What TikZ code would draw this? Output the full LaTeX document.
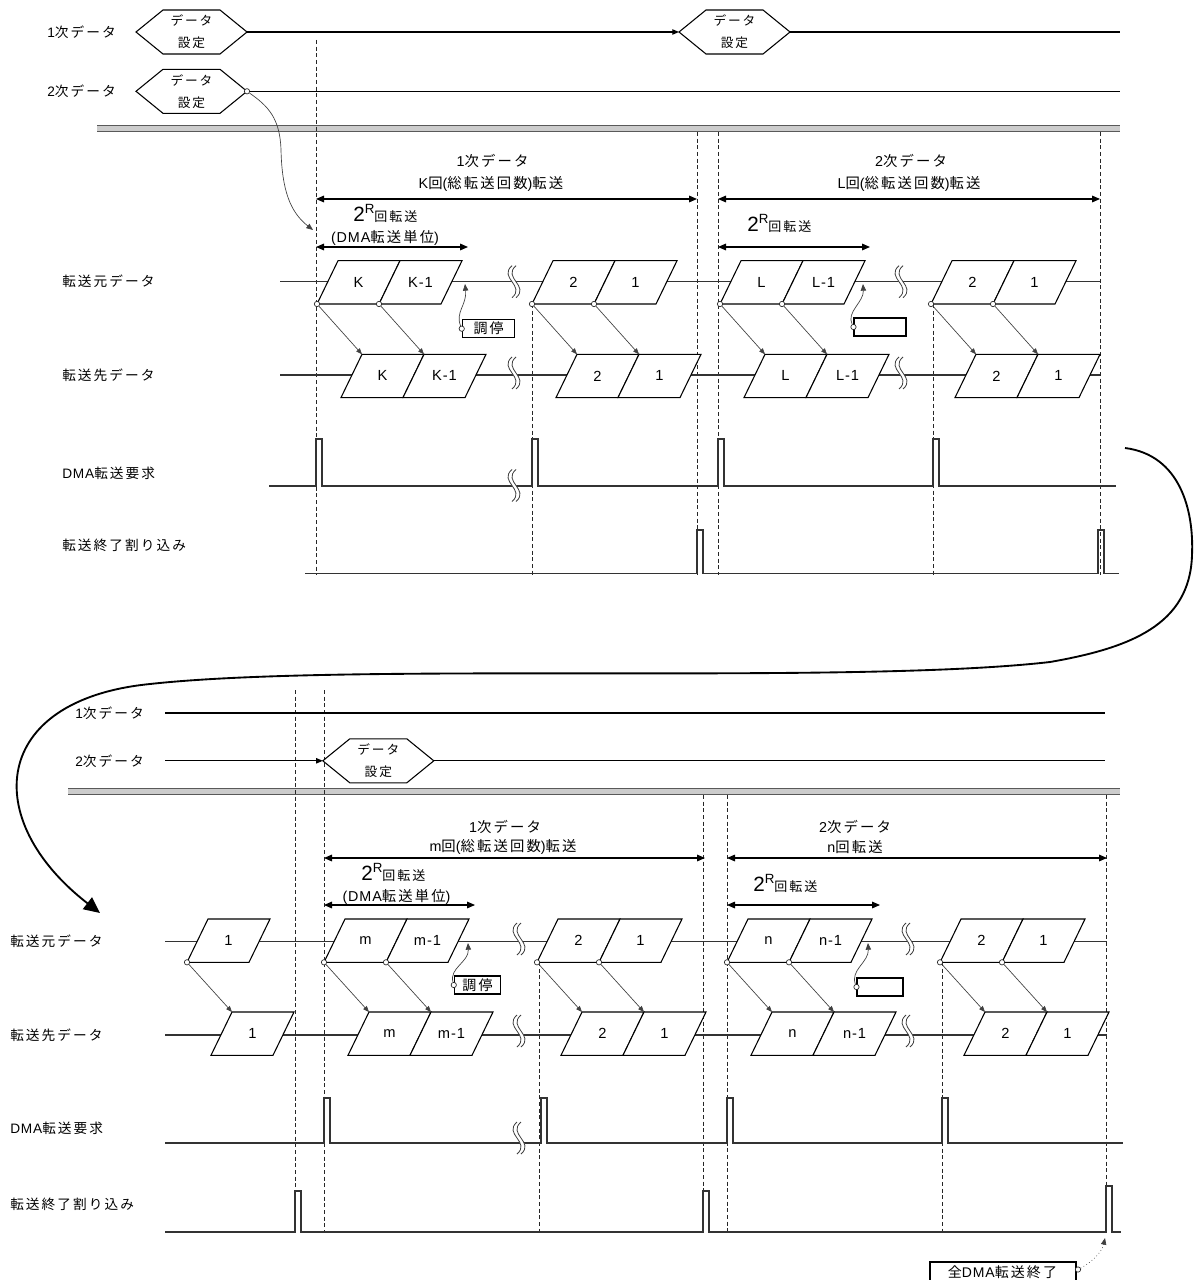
\documentclass[tikz,border=0pt]{standalone}
\usepackage{fontspec}
\setmainfont[LetterSpace=6]{Liberation Sans}
\newfontfamily\jp[LetterSpace=15]{Noto Sans CJK JP}
\usetikzlibrary{arrows.meta}
\tikzset{
  ln/.style={line width=0.9pt, draw=black},
  rowln/.style={line width=0.9pt, draw=black!80},
  thinln/.style={line width=0.5pt, draw=black!75},
  dsh/.style={line width=0.6pt, dash pattern=on 3pt off 2pt, draw=black!85},
  box/.style={line width=0.8pt, fill=white, draw=black},
  dot/.style={circle, draw=black!85, fill=white, line width=0.5pt, inner sep=0pt, minimum size=4pt},
  tarr/.style={thinln, -{Triangle[length=4.5pt,width=3.5pt]}},
  iarr/.style={line width=0.8pt, {Triangle[length=6pt,width=5pt]}-{Triangle[length=6pt,width=5pt]}},
  lab/.style={anchor=west, inner sep=0pt, font=\fontsize{10.25}{13}\selectfont},
  jlab/.style={lab, font=\jp\fontsize{10.25}{13}\selectfont},
  ctr/.style={inner sep=0pt, font=\fontsize{10.75}{13}\selectfont},
  pgl/.style={inner sep=0pt, font=\fontsize{11}{13}\selectfont},
  hexlab/.style={inner sep=0pt, align=center, font=\jp\fontsize{9.5}{16.5}\selectfont},
  tagbox/.style={draw=black, line width=0.8pt, fill=white, inner sep=0pt, minimum height=13.5pt, font=\jp\fontsize{10.5}{13}\selectfont},
  bigarr/.style={line width=1.4pt, -{Triangle[length=12pt,width=11pt]}}
}
\newcommand\hexa[3]{%
  \draw[box] (#2-55.5,#3) -- (#2-28.5,#3-22) -- (#2+28.5,#3-22) -- (#2+55.5,#3) -- (#2+28.5,#3+22) -- (#2-28.5,#3+22) -- cycle;
  \coordinate (#1w) at (#2-55.5,#3);
  \coordinate (#1e) at (#2+55.5,#3);
  \node[hexlab] (#1) at (#2,#3) {データ\\設定};
}
\newcommand\pgram[4]{%
  \draw[box] (#2,#3+43.3) -- (#2+21,#3) -- (#2+83,#3) -- (#2+62,#3+43.3) -- cycle;
  \coordinate (#1bl) at (#2,#3+43.3);
  \coordinate (#1tl) at (#2+21,#3);
  \node[pgl] (#1) at (#2+41.5,#3+21.65) {#4};
}
\newcommand\pgpair[5]{%
  \pgram{#1a}{#2}{#3}{#4}%
  \pgram{#1b}{#2+62}{#3}{#5}%
}
\newcommand\grp[6]{%
  \pgpair{#1u}{#2}{#3}{#5}{#6}%
  \pgpair{#1l}{#2+24}{#4}{#5}{#6}%
  \node[dot] (#1c1) at (#1uabl) {};
  \node[dot] (#1c2) at (#1ubbl) {};
  \draw[tarr] (#1c1) -- (#1latl);
  \draw[tarr] (#1c2) -- (#1lbtl);
}
\newcommand\brk[2]{%
  \fill[white] (#1,#2-16) .. controls (#1-14,#2-4) and (#1+14,#2+4) .. (#1,#2+16) -- (#1+4,#2+16) .. controls (#1+18,#2+4) and (#1-10,#2-4) .. (#1+4,#2-16) -- cycle;
  \draw[thinln,line width=0.6pt] (#1,#2-16) .. controls (#1-14,#2-4) and (#1+14,#2+4) .. (#1,#2+16);
  \draw[thinln,line width=0.6pt] (#1+4,#2-16) .. controls (#1-10,#2-4) and (#1+18,#2+4) .. (#1+4,#2+16);
}
\newcommand\rtxt{{\fontsize{15.5}{16}\selectfont 2}\raisebox{6pt}{\fontsize{10}{10}\selectfont R}{\jp\fontsize{9.75}{10}\selectfont 回転送}}
\begin{document}
\begin{tikzpicture}[x=0.75pt,y=-0.75pt]
\useasboundingbox (0,0) rectangle (1193,1280);
\fill[white] (0,0) rectangle (1193,1280);

% gray double bands
\fill[gray!40] (97,125) rectangle (1120,131);
\draw[black!65,line width=0.7pt] (97,125) -- (1120,125) (97,131) -- (1120,131);
\fill[gray!40] (68,788) rectangle (1120,794);
\draw[black!65,line width=0.7pt] (68,788) -- (1120,788) (68,794) -- (1120,794);

% dashed verticals
\foreach \x/\ya/\yb in {316/40/575, 697/132/575, 718/132/575, 1100/132/575, 532/304/575, 933/304/575,
  295/690/1232, 324/690/1232, 703/795/1232, 727/795/1232, 1106/795/1232, 539/962/1232, 942/962/1232}
  \draw[dsh] (\x,\ya) -- (\x,\yb);

% ===== TOP SECTION =====
\node[lab] (t1lab) at (47,32) {1{\jp 次データ}};
\node[lab] (t2lab) at (47,91.3) {2{\jp 次データ}};
\hexa{h1}{191.5}{32}
\hexa{h2}{191.5}{91.3}
\hexa{h3}{734.5}{32}
\coordinate (t1end) at (1120,32);
\coordinate (t2end) at (1120,91.3);
\draw[ln,-{Triangle[length=5pt,width=4pt]}] (h1e) -- (h3w);
\draw[ln] (h3e) -- (t1end);
\draw[ln] (h2e) -- (t2end);
\node[dot] (h2c) at (h2e) {};
\coordinate (dmaS) at (313,230);
\draw[thinln,-{Triangle[length=5pt,width=4pt]}] (h2c) .. controls (268,106) and (280,118) .. (281,150) .. controls (282,190) and (290,212) .. (dmaS);

% interval labels top
\node[ctr] (t1i) at (492.5,161) {1{\jp 次データ}};
\node[ctr] (t1k) at (491,183.5) {K{\jp 回}({\jp 総転送回数}){\jp 転送}};
\node[ctr] (t2i) at (911,161) {2{\jp 次データ}};
\node[ctr] (t2k) at (909,183.5) {L{\jp 回}({\jp 総転送回数}){\jp 転送}};
\coordinate (ka) at (316,199); \coordinate (kb) at (697,199);
\coordinate (la) at (718,199); \coordinate (lb) at (1100,199);
\draw[iarr] (ka) -- (kb);
\draw[iarr] (la) -- (lb);
\node[anchor=base west,inner sep=0pt] (r1) at (353,222) {\rtxt};
\node[ctr] (u1) at (385,237.5) {(DMA{\jp 転送単位})};
\node[anchor=base west,inner sep=0pt] (r2) at (747,232) {\rtxt};
\coordinate (da) at (316,247); \coordinate (db) at (468,247);
\coordinate (ea) at (718,247); \coordinate (eb) at (870,247);
\draw[iarr] (da) -- (db);
\draw[iarr] (ea) -- (eb);

% rows top
\node[jlab] (tsrc) at (62,281.7) {転送元データ};
\node[jlab] (tdst) at (62,375) {転送先データ};
\node[lab] (treq) at (62,473) {DMA{\jp 転送要求}};
\node[jlab] (tint) at (62,545) {転送終了割り込み};
\coordinate (tsa) at (280,281.7); \coordinate (tsb) at (1100,281.7);
\coordinate (tda) at (280,375); \coordinate (tdb) at (1100,375);
\draw[rowln] (tsa) -- (tsb);
\draw[rowln] (tda) -- (tdb);
\brk{512}{281.7}
\brk{512}{373}
\brk{899}{281.7}
\brk{899}{373}

\grp{gA}{317}{260.7}{354.3}{K}{K-1}
\grp{gB}{532}{260.7}{354.3}{2}{1}
\grp{gC}{720}{260.7}{354.3}{L}{L-1}
\grp{gD}{931}{260.7}{354.3}{2}{1}

% arbitration tags top
\node[tagbox,minimum width=39.5pt] (arb1) at (488.6,328.7) {調停};
\node[dot] (arb1c) at (arb1.west) {};
\coordinate (arb1t) at (465,284);
\draw[thinln,-{Triangle[length=5pt,width=4pt]}] (arb1c) .. controls (455,312) and (467,305) .. (arb1t);
\node[tagbox,minimum width=39pt] (emp1) at (880,327) {};
\node[dot] (emp1c) at (emp1.west) {};
\coordinate (emp1t) at (863,284);
\draw[thinln,-{Triangle[length=5pt,width=4pt]}] (emp1c) .. controls (846,312) and (864,302) .. (emp1t);

% pulses top
\coordinate (tq0) at (269,486);
\coordinate (tq1) at (1116,486);
\draw[rowln] (tq0) -| (316,439) -| (322,486) -| (532,439) -| (538,486) -| (718,439) -| (724,486) -| (933,439) -| (939,486) -- (tq1);
\brk{512}{485.5}
\coordinate (ti0) at (305,573.3);
\coordinate (ti1) at (1119,573.3);
\draw[rowln] (ti0) -| (697,530) -| (703,573.3) -| (1098,530) -| (1104,573.3) -- (ti1);

% big connecting arrow
\coordinate (cs) at (1125,448);
\coordinate (ce) at (100,913);
\draw[bigarr] (cs) .. controls (1180,455) and (1194,510) .. (1192,555) .. controls (1190,625) and (1130,648) .. (1050,662) .. controls (850,685) and (350,662) .. (150,684) .. controls (-10,700) and (-20,820) .. (ce);

% ===== BOTTOM SECTION =====
\node[lab] (b1lab) at (75,713) {1{\jp 次データ}};
\node[lab] (b2lab) at (75,760.8) {2{\jp 次データ}};
\hexa{h4}{378.3}{760.8}
\coordinate (b1s) at (165,713); \coordinate (b1e) at (1105,713);
\coordinate (b2s) at (165,760.8); \coordinate (b2e) at (1105,760.8);
\draw[ln] (b1s) -- (b1e);
\draw[ln,-{Triangle[length=5pt,width=4pt]}] (b2s) -- (h4w);
\draw[ln] (h4e) -- (b2e);

\node[ctr] (b1i) at (505,826.7) {1{\jp 次データ}};
\node[ctr] (b1k) at (503,846.7) {m{\jp 回}({\jp 総転送回数}){\jp 転送}};
\node[ctr] (b2i) at (855,826.7) {2{\jp 次データ}};
\node[ctr] (b2k) at (855,846.7) {n{\jp 回転送}};
\coordinate (ma) at (324,858); \coordinate (mb) at (705,858);
\coordinate (na) at (727,858); \coordinate (nb) at (1107,858);
\draw[iarr] (ma) -- (mb);
\draw[iarr] (na) -- (nb);
\node[anchor=base west,inner sep=0pt] (r3) at (361,880.5) {\rtxt};
\node[ctr] (u2) at (396.5,896.7) {(DMA{\jp 転送単位})};
\node[anchor=base west,inner sep=0pt] (r4) at (753,891) {\rtxt};
\coordinate (fa) at (324,905); \coordinate (fb) at (475,905);
\coordinate (ga) at (727,905); \coordinate (gb) at (880,905);
\draw[iarr] (fa) -- (fb);
\draw[iarr] (ga) -- (gb);

\node[jlab] (bsrc) at (10,941.7) {転送元データ};
\node[jlab] (bdst) at (10,1035) {転送先データ};
\node[lab] (breq) at (10,1128) {DMA{\jp 転送要求}};
\node[jlab] (bint) at (10,1204) {転送終了割り込み};
\coordinate (bsa) at (165,941.7); \coordinate (bsb) at (1107,941.7);
\coordinate (bda) at (165,1035); \coordinate (bdb) at (1107,1035);
\draw[rowln] (bsa) -- (bsb);
\draw[rowln] (bda) -- (bdb);
\brk{517}{939}
\brk{517}{1031}
\brk{906}{939}
\brk{906}{1031}

% single "1"
\pgram{sU}{187}{919}{1}
\pgram{sL}{211}{1012}{1}
\node[dot] (sc) at (sUbl) {};
\draw[tarr] (sc) -- (sLtl);

\grp{gE}{324}{919}{1012}{m}{m-1}
\grp{gF}{537}{919}{1012}{2}{1}
\grp{gG}{727}{919}{1012}{n}{n-1}
\grp{gH}{940}{919}{1012}{2}{1}

\node[tagbox,minimum width=34.8pt] (arb2) at (477.5,985) {調停};
\node[dot] (arb2c) at (arb2.west) {};
\coordinate (arb2t) at (468,943);
\draw[thinln,-{Triangle[length=5pt,width=4pt]}] (arb2c) .. controls (449,968) and (469,962) .. (arb2t);
\node[tagbox,minimum width=34.5pt] (emp2) at (880,987) {};
\node[dot] (emp2c) at (emp2.west) {};
\coordinate (emp2t) at (868,943);
\draw[thinln,-{Triangle[length=5pt,width=4pt]}] (emp2c) .. controls (850,970) and (869,962) .. (emp2t);

% pulses bottom
\coordinate (bq0) at (165,1143);
\coordinate (bq1) at (1123,1143);
\draw[rowln] (bq0) -| (324,1098) -| (330,1143) -| (541,1098) -| (547,1143) -| (727,1098) -| (733,1143) -| (942,1098) -| (948,1143) -- (bq1);
\brk{517}{1138}
\coordinate (bi0) at (165,1232);
\coordinate (bi1) at (1121,1232);
\draw[rowln] (bi0) -| (295,1191) -| (301,1232) -| (703,1191) -| (709,1232) -| (1106,1186) -| (1112,1232) -- (bi1);

% final tag
\node[draw=black,line width=0.8pt,fill=white,inner sep=0pt,minimum width=109.5pt,minimum height=21pt] (fin) at (1003,1276) {};
\node[inner sep=0pt,font=\fontsize{10.5}{13}\selectfont] (fint) at (1002.5,1272.5) {{\jp 全}DMA{\jp 転送終了}};
\node[dot] (finc) at (1078,1269.5) {};
\coordinate (fint2) at (1105,1238);
\draw[thinln,dotted,-{Triangle[length=5pt,width=4pt]}] (finc) .. controls (1092,1262) and (1102,1252) .. (fint2);
\end{tikzpicture}
\end{document}
